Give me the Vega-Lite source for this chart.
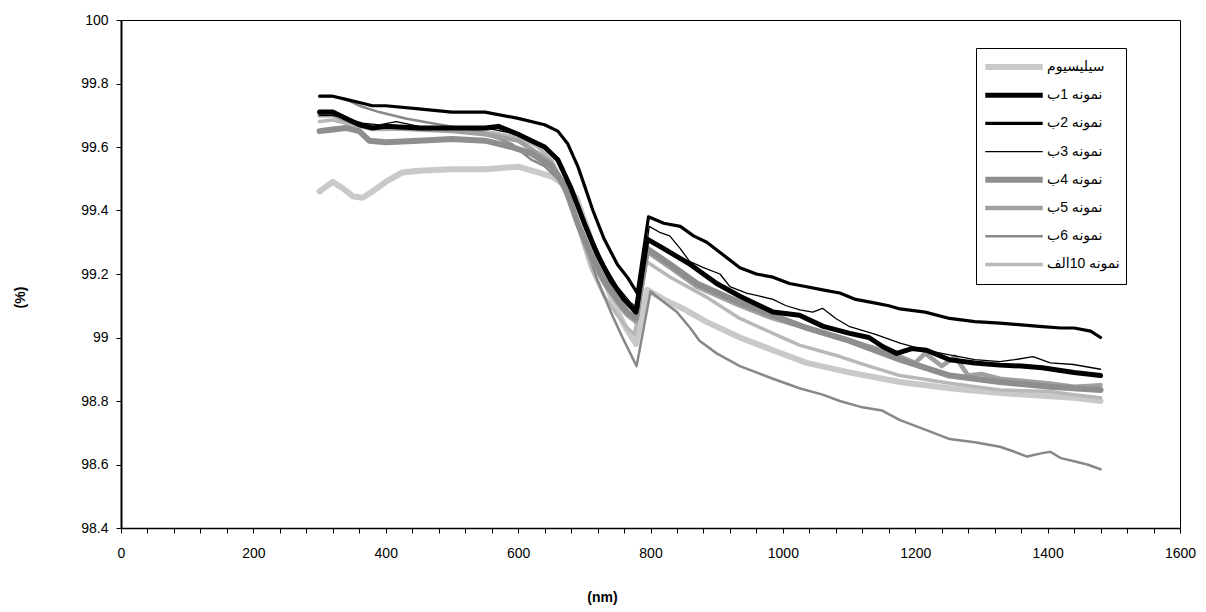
{
  "$schema": "https://vega.github.io/schema/vega-lite/v6.json",
  "width": 1059,
  "height": 508,
  "autosize": "none",
  "padding": {"left": 121, "top": 20, "right": 26, "bottom": 84},
  "background": "white",
  "config": {"view": {"stroke": "black", "strokeWidth": 1}, "font": "Liberation Sans"},
  "data": {"values": [
    {"s":"سیلیسیوم","nm":300,"p":99.46},{"s":"سیلیسیوم","nm":310,"p":99.475},{"s":"سیلیسیوم","nm":320,"p":99.49},{"s":"سیلیسیوم","nm":335,"p":99.47},{"s":"سیلیسیوم","nm":350,"p":99.445},{"s":"سیلیسیوم","nm":365,"p":99.44},{"s":"سیلیسیوم","nm":380,"p":99.46},{"s":"سیلیسیوم","nm":400,"p":99.49},{"s":"سیلیسیوم","nm":425,"p":99.52},{"s":"سیلیسیوم","nm":450,"p":99.525},{"s":"سیلیسیوم","nm":500,"p":99.53},{"s":"سیلیسیوم","nm":550,"p":99.53},{"s":"سیلیسیوم","nm":600,"p":99.538},{"s":"سیلیسیوم","nm":630,"p":99.52},{"s":"سیلیسیوم","nm":652,"p":99.506},{"s":"سیلیسیوم","nm":670,"p":99.48},{"s":"سیلیسیوم","nm":688,"p":99.44},{"s":"سیلیسیوم","nm":705,"p":99.34},{"s":"سیلیسیوم","nm":720,"p":99.24},{"s":"سیلیسیوم","nm":740,"p":99.13},{"s":"سیلیسیوم","nm":760,"p":99.04},{"s":"سیلیسیوم","nm":778,"p":98.98},{"s":"سیلیسیوم","nm":795,"p":99.15},{"s":"سیلیسیوم","nm":820,"p":99.12},{"s":"سیلیسیوم","nm":850,"p":99.09},{"s":"سیلیسیوم","nm":884,"p":99.05},{"s":"سیلیسیوم","nm":935,"p":99.0},{"s":"سیلیسیوم","nm":985,"p":98.96},{"s":"سیلیسیوم","nm":1036,"p":98.92},{"s":"سیلیسیوم","nm":1100,"p":98.89},{"s":"سیلیسیوم","nm":1177,"p":98.86},{"s":"سیلیسیوم","nm":1252,"p":98.84},{"s":"سیلیسیوم","nm":1328,"p":98.825},{"s":"سیلیسیوم","nm":1404,"p":98.815},{"s":"سیلیسیوم","nm":1440,"p":98.81},{"s":"سیلیسیوم","nm":1480,"p":98.8},

    {"s":"نمونه 10الف","nm":300,"p":99.68},{"s":"نمونه 10الف","nm":320,"p":99.685},{"s":"نمونه 10الف","nm":340,"p":99.675},{"s":"نمونه 10الف","nm":360,"p":99.665},{"s":"نمونه 10الف","nm":380,"p":99.655},{"s":"نمونه 10الف","nm":400,"p":99.655},{"s":"نمونه 10الف","nm":450,"p":99.66},{"s":"نمونه 10الف","nm":500,"p":99.655},{"s":"نمونه 10الف","nm":550,"p":99.65},{"s":"نمونه 10الف","nm":600,"p":99.63},{"s":"نمونه 10الف","nm":630,"p":99.6},{"s":"نمونه 10الف","nm":650,"p":99.56},{"s":"نمونه 10الف","nm":670,"p":99.48},{"s":"نمونه 10الف","nm":690,"p":99.35},{"s":"نمونه 10الف","nm":710,"p":99.22},{"s":"نمونه 10الف","nm":730,"p":99.13},{"s":"نمونه 10الف","nm":750,"p":99.07},{"s":"نمونه 10الف","nm":765,"p":99.03},{"s":"نمونه 10الف","nm":776,"p":99.01},{"s":"نمونه 10الف","nm":793,"p":99.24},{"s":"نمونه 10الف","nm":830,"p":99.19},{"s":"نمونه 10الف","nm":884,"p":99.128},{"s":"نمونه 10الف","nm":935,"p":99.06},{"s":"نمونه 10الف","nm":985,"p":99.013},{"s":"نمونه 10الف","nm":1025,"p":98.976},{"s":"نمونه 10الف","nm":1086,"p":98.94},{"s":"نمونه 10الف","nm":1130,"p":98.91},{"s":"نمونه 10الف","nm":1177,"p":98.88},{"s":"نمونه 10الف","nm":1252,"p":98.856},{"s":"نمونه 10الف","nm":1328,"p":98.835},{"s":"نمونه 10الف","nm":1404,"p":98.83},{"s":"نمونه 10الف","nm":1440,"p":98.82},{"s":"نمونه 10الف","nm":1480,"p":98.81},

    {"s":"نمونه 6ب","nm":300,"p":99.76},{"s":"نمونه 6ب","nm":320,"p":99.76},{"s":"نمونه 6ب","nm":340,"p":99.75},{"s":"نمونه 6ب","nm":360,"p":99.73},{"s":"نمونه 6ب","nm":390,"p":99.71},{"s":"نمونه 6ب","nm":430,"p":99.69},{"s":"نمونه 6ب","nm":470,"p":99.675},{"s":"نمونه 6ب","nm":540,"p":99.65},{"s":"نمونه 6ب","nm":590,"p":99.61},{"s":"نمونه 6ب","nm":620,"p":99.56},{"s":"نمونه 6ب","nm":640,"p":99.54},{"s":"نمونه 6ب","nm":660,"p":99.5},{"s":"نمونه 6ب","nm":680,"p":99.42},{"s":"نمونه 6ب","nm":700,"p":99.3},{"s":"نمونه 6ب","nm":720,"p":99.18},{"s":"نمونه 6ب","nm":740,"p":99.08},{"s":"نمونه 6ب","nm":760,"p":98.99},{"s":"نمونه 6ب","nm":779,"p":98.91},{"s":"نمونه 6ب","nm":800,"p":99.145},{"s":"نمونه 6ب","nm":815,"p":99.12},{"s":"نمونه 6ب","nm":840,"p":99.08},{"s":"نمونه 6ب","nm":860,"p":99.03},{"s":"نمونه 6ب","nm":874,"p":98.99},{"s":"نمونه 6ب","nm":900,"p":98.95},{"s":"نمونه 6ب","nm":935,"p":98.91},{"s":"نمونه 6ب","nm":960,"p":98.89},{"s":"نمونه 6ب","nm":985,"p":98.87},{"s":"نمونه 6ب","nm":1025,"p":98.84},{"s":"نمونه 6ب","nm":1060,"p":98.82},{"s":"نمونه 6ب","nm":1086,"p":98.8},{"s":"نمونه 6ب","nm":1120,"p":98.78},{"s":"نمونه 6ب","nm":1150,"p":98.77},{"s":"نمونه 6ب","nm":1177,"p":98.74},{"s":"نمونه 6ب","nm":1215,"p":98.71},{"s":"نمونه 6ب","nm":1252,"p":98.68},{"s":"نمونه 6ب","nm":1290,"p":98.67},{"s":"نمونه 6ب","nm":1328,"p":98.656},{"s":"نمونه 6ب","nm":1350,"p":98.64},{"s":"نمونه 6ب","nm":1369,"p":98.625},{"s":"نمونه 6ب","nm":1390,"p":98.635},{"s":"نمونه 6ب","nm":1404,"p":98.64},{"s":"نمونه 6ب","nm":1420,"p":98.62},{"s":"نمونه 6ب","nm":1440,"p":98.61},{"s":"نمونه 6ب","nm":1460,"p":98.6},{"s":"نمونه 6ب","nm":1480,"p":98.585},

    {"s":"نمونه 5ب","nm":300,"p":99.7},{"s":"نمونه 5ب","nm":320,"p":99.7},{"s":"نمونه 5ب","nm":340,"p":99.685},{"s":"نمونه 5ب","nm":360,"p":99.67},{"s":"نمونه 5ب","nm":400,"p":99.66},{"s":"نمونه 5ب","nm":450,"p":99.655},{"s":"نمونه 5ب","nm":500,"p":99.65},{"s":"نمونه 5ب","nm":550,"p":99.64},{"s":"نمونه 5ب","nm":600,"p":99.62},{"s":"نمونه 5ب","nm":630,"p":99.58},{"s":"نمونه 5ب","nm":650,"p":99.55},{"s":"نمونه 5ب","nm":670,"p":99.47},{"s":"نمونه 5ب","nm":690,"p":99.36},{"s":"نمونه 5ب","nm":710,"p":99.25},{"s":"نمونه 5ب","nm":730,"p":99.17},{"s":"نمونه 5ب","nm":750,"p":99.11},{"s":"نمونه 5ب","nm":765,"p":99.07},{"s":"نمونه 5ب","nm":778,"p":99.05},{"s":"نمونه 5ب","nm":795,"p":99.27},{"s":"نمونه 5ب","nm":830,"p":99.22},{"s":"نمونه 5ب","nm":870,"p":99.16},{"s":"نمونه 5ب","nm":935,"p":99.1},{"s":"نمونه 5ب","nm":985,"p":99.06},{"s":"نمونه 5ب","nm":1036,"p":99.03},{"s":"نمونه 5ب","nm":1100,"p":98.99},{"s":"نمونه 5ب","nm":1150,"p":98.96},{"s":"نمونه 5ب","nm":1177,"p":98.94},{"s":"نمونه 5ب","nm":1200,"p":98.92},{"s":"نمونه 5ب","nm":1215,"p":98.95},{"s":"نمونه 5ب","nm":1240,"p":98.91},{"s":"نمونه 5ب","nm":1260,"p":98.94},{"s":"نمونه 5ب","nm":1280,"p":98.88},{"s":"نمونه 5ب","nm":1300,"p":98.885},{"s":"نمونه 5ب","nm":1328,"p":98.87},{"s":"نمونه 5ب","nm":1404,"p":98.855},{"s":"نمونه 5ب","nm":1440,"p":98.845},{"s":"نمونه 5ب","nm":1480,"p":98.85},

    {"s":"نمونه 4ب","nm":300,"p":99.65},{"s":"نمونه 4ب","nm":320,"p":99.655},{"s":"نمونه 4ب","nm":340,"p":99.66},{"s":"نمونه 4ب","nm":360,"p":99.65},{"s":"نمونه 4ب","nm":375,"p":99.62},{"s":"نمونه 4ب","nm":400,"p":99.615},{"s":"نمونه 4ب","nm":450,"p":99.62},{"s":"نمونه 4ب","nm":500,"p":99.625},{"s":"نمونه 4ب","nm":550,"p":99.62},{"s":"نمونه 4ب","nm":590,"p":99.6},{"s":"نمونه 4ب","nm":620,"p":99.58},{"s":"نمونه 4ب","nm":650,"p":99.54},{"s":"نمونه 4ب","nm":670,"p":99.48},{"s":"نمونه 4ب","nm":690,"p":99.36},{"s":"نمونه 4ب","nm":710,"p":99.26},{"s":"نمونه 4ب","nm":730,"p":99.18},{"s":"نمونه 4ب","nm":750,"p":99.12},{"s":"نمونه 4ب","nm":765,"p":99.08},{"s":"نمونه 4ب","nm":778,"p":99.06},{"s":"نمونه 4ب","nm":795,"p":99.28},{"s":"نمونه 4ب","nm":830,"p":99.23},{"s":"نمونه 4ب","nm":870,"p":99.17},{"s":"نمونه 4ب","nm":935,"p":99.11},{"s":"نمونه 4ب","nm":985,"p":99.07},{"s":"نمونه 4ب","nm":1036,"p":99.03},{"s":"نمونه 4ب","nm":1100,"p":98.99},{"s":"نمونه 4ب","nm":1177,"p":98.93},{"s":"نمونه 4ب","nm":1252,"p":98.88},{"s":"نمونه 4ب","nm":1328,"p":98.86},{"s":"نمونه 4ب","nm":1404,"p":98.845},{"s":"نمونه 4ب","nm":1480,"p":98.835},

    {"s":"نمونه 3ب","nm":300,"p":99.7},{"s":"نمونه 3ب","nm":320,"p":99.7},{"s":"نمونه 3ب","nm":340,"p":99.69},{"s":"نمونه 3ب","nm":365,"p":99.675},{"s":"نمونه 3ب","nm":390,"p":99.67},{"s":"نمونه 3ب","nm":416,"p":99.68},{"s":"نمونه 3ب","nm":450,"p":99.665},{"s":"نمونه 3ب","nm":500,"p":99.66},{"s":"نمونه 3ب","nm":550,"p":99.66},{"s":"نمونه 3ب","nm":600,"p":99.64},{"s":"نمونه 3ب","nm":630,"p":99.61},{"s":"نمونه 3ب","nm":650,"p":99.58},{"s":"نمونه 3ب","nm":670,"p":99.52},{"s":"نمونه 3ب","nm":690,"p":99.42},{"s":"نمونه 3ب","nm":710,"p":99.32},{"s":"نمونه 3ب","nm":730,"p":99.23},{"s":"نمونه 3ب","nm":750,"p":99.16},{"s":"نمونه 3ب","nm":770,"p":99.11},{"s":"نمونه 3ب","nm":782,"p":99.09},{"s":"نمونه 3ب","nm":798,"p":99.35},{"s":"نمونه 3ب","nm":815,"p":99.33},{"s":"نمونه 3ب","nm":829,"p":99.32},{"s":"نمونه 3ب","nm":845,"p":99.28},{"s":"نمونه 3ب","nm":859,"p":99.24},{"s":"نمونه 3ب","nm":880,"p":99.22},{"s":"نمونه 3ب","nm":905,"p":99.2},{"s":"نمونه 3ب","nm":920,"p":99.16},{"s":"نمونه 3ب","nm":945,"p":99.14},{"s":"نمونه 3ب","nm":965,"p":99.13},{"s":"نمونه 3ب","nm":985,"p":99.12},{"s":"نمونه 3ب","nm":1005,"p":99.1},{"s":"نمونه 3ب","nm":1026,"p":99.087},{"s":"نمونه 3ب","nm":1045,"p":99.08},{"s":"نمونه 3ب","nm":1060,"p":99.092},{"s":"نمونه 3ب","nm":1080,"p":99.06},{"s":"نمونه 3ب","nm":1101,"p":99.034},{"s":"نمونه 3ب","nm":1140,"p":99.01},{"s":"نمونه 3ب","nm":1177,"p":98.982},{"s":"نمونه 3ب","nm":1215,"p":98.96},{"s":"نمونه 3ب","nm":1252,"p":98.945},{"s":"نمونه 3ب","nm":1290,"p":98.93},{"s":"نمونه 3ب","nm":1328,"p":98.924},{"s":"نمونه 3ب","nm":1350,"p":98.93},{"s":"نمونه 3ب","nm":1378,"p":98.94},{"s":"نمونه 3ب","nm":1404,"p":98.92},{"s":"نمونه 3ب","nm":1439,"p":98.915},{"s":"نمونه 3ب","nm":1480,"p":98.9},

    {"s":"نمونه 1ب","nm":300,"p":99.71},{"s":"نمونه 1ب","nm":320,"p":99.71},{"s":"نمونه 1ب","nm":340,"p":99.69},{"s":"نمونه 1ب","nm":360,"p":99.67},{"s":"نمونه 1ب","nm":380,"p":99.66},{"s":"نمونه 1ب","nm":400,"p":99.665},{"s":"نمونه 1ب","nm":450,"p":99.66},{"s":"نمونه 1ب","nm":500,"p":99.66},{"s":"نمونه 1ب","nm":550,"p":99.66},{"s":"نمونه 1ب","nm":570,"p":99.665},{"s":"نمونه 1ب","nm":600,"p":99.64},{"s":"نمونه 1ب","nm":620,"p":99.62},{"s":"نمونه 1ب","nm":640,"p":99.6},{"s":"نمونه 1ب","nm":660,"p":99.56},{"s":"نمونه 1ب","nm":680,"p":99.47},{"s":"نمونه 1ب","nm":700,"p":99.36},{"s":"نمونه 1ب","nm":720,"p":99.26},{"s":"نمونه 1ب","nm":740,"p":99.18},{"s":"نمونه 1ب","nm":760,"p":99.12},{"s":"نمونه 1ب","nm":778,"p":99.08},{"s":"نمونه 1ب","nm":795,"p":99.31},{"s":"نمونه 1ب","nm":820,"p":99.28},{"s":"نمونه 1ب","nm":860,"p":99.23},{"s":"نمونه 1ب","nm":900,"p":99.17},{"s":"نمونه 1ب","nm":935,"p":99.13},{"s":"نمونه 1ب","nm":985,"p":99.08},{"s":"نمونه 1ب","nm":1025,"p":99.07},{"s":"نمونه 1ب","nm":1061,"p":99.035},{"s":"نمونه 1ب","nm":1101,"p":99.013},{"s":"نمونه 1ب","nm":1130,"p":99.0},{"s":"نمونه 1ب","nm":1152,"p":98.97},{"s":"نمونه 1ب","nm":1172,"p":98.95},{"s":"نمونه 1ب","nm":1195,"p":98.965},{"s":"نمونه 1ب","nm":1217,"p":98.96},{"s":"نمونه 1ب","nm":1252,"p":98.93},{"s":"نمونه 1ب","nm":1290,"p":98.92},{"s":"نمونه 1ب","nm":1328,"p":98.913},{"s":"نمونه 1ب","nm":1360,"p":98.91},{"s":"نمونه 1ب","nm":1392,"p":98.905},{"s":"نمونه 1ب","nm":1440,"p":98.89},{"s":"نمونه 1ب","nm":1480,"p":98.88},

    {"s":"نمونه 2ب","nm":300,"p":99.76},{"s":"نمونه 2ب","nm":320,"p":99.76},{"s":"نمونه 2ب","nm":340,"p":99.75},{"s":"نمونه 2ب","nm":360,"p":99.74},{"s":"نمونه 2ب","nm":380,"p":99.73},{"s":"نمونه 2ب","nm":400,"p":99.73},{"s":"نمونه 2ب","nm":450,"p":99.72},{"s":"نمونه 2ب","nm":500,"p":99.71},{"s":"نمونه 2ب","nm":550,"p":99.71},{"s":"نمونه 2ب","nm":600,"p":99.69},{"s":"نمونه 2ب","nm":640,"p":99.67},{"s":"نمونه 2ب","nm":660,"p":99.65},{"s":"نمونه 2ب","nm":675,"p":99.61},{"s":"نمونه 2ب","nm":690,"p":99.54},{"s":"نمونه 2ب","nm":700,"p":99.48},{"s":"نمونه 2ب","nm":713,"p":99.4},{"s":"نمونه 2ب","nm":730,"p":99.31},{"s":"نمونه 2ب","nm":750,"p":99.23},{"s":"نمونه 2ب","nm":765,"p":99.19},{"s":"نمونه 2ب","nm":780,"p":99.14},{"s":"نمونه 2ب","nm":797,"p":99.38},{"s":"نمونه 2ب","nm":820,"p":99.36},{"s":"نمونه 2ب","nm":845,"p":99.35},{"s":"نمونه 2ب","nm":865,"p":99.32},{"s":"نمونه 2ب","nm":885,"p":99.3},{"s":"نمونه 2ب","nm":910,"p":99.26},{"s":"نمونه 2ب","nm":935,"p":99.22},{"s":"نمونه 2ب","nm":960,"p":99.2},{"s":"نمونه 2ب","nm":985,"p":99.19},{"s":"نمونه 2ب","nm":1010,"p":99.17},{"s":"نمونه 2ب","nm":1036,"p":99.16},{"s":"نمونه 2ب","nm":1060,"p":99.15},{"s":"نمونه 2ب","nm":1086,"p":99.14},{"s":"نمونه 2ب","nm":1110,"p":99.12},{"s":"نمونه 2ب","nm":1136,"p":99.11},{"s":"نمونه 2ب","nm":1160,"p":99.1},{"s":"نمونه 2ب","nm":1177,"p":99.09},{"s":"نمونه 2ب","nm":1215,"p":99.08},{"s":"نمونه 2ب","nm":1252,"p":99.06},{"s":"نمونه 2ب","nm":1290,"p":99.05},{"s":"نمونه 2ب","nm":1328,"p":99.045},{"s":"نمونه 2ب","nm":1360,"p":99.04},{"s":"نمونه 2ب","nm":1392,"p":99.034},{"s":"نمونه 2ب","nm":1420,"p":99.03},{"s":"نمونه 2ب","nm":1440,"p":99.03},{"s":"نمونه 2ب","nm":1465,"p":99.02},{"s":"نمونه 2ب","nm":1480,"p":99.0}
  ]},
  "mark": {"type": "line", "interpolate": "linear", "strokeJoin": "round", "strokeCap": "round"},
  "encoding": {
    "x": {"field": "nm", "type": "quantitative",
      "scale": {"domain": [0, 1600], "nice": false, "zero": false},
      "axis": {"values": [0,40,80,120,160,200,240,280,320,360,400,440,480,520,560,600,640,680,720,760,800,840,880,920,960,1000,1040,1080,1120,1160,1200,1240,1280,1320,1360,1400,1440,1480,1520,1560,1600],
        "labelExpr": "datum.value % 200 === 0 ? datum.label : ''", "format": "d",
        "labelOverlap": false, "labelFlush": false, "grid": false,
        "tickSize": 5, "tickColor": "black", "domainColor": "black", "domainWidth": 1.5,
        "labelFontSize": 14, "labelColor": "black", "labelFont": "Liberation Sans", "labelPadding": 13,
        "title": "(nm)", "titleFontWeight": "bold", "titleFontSize": 14, "titleFont": "Liberation Sans", "titleColor": "black",
        "titleX": 481, "titleY": 62}},
    "y": {"field": "p", "type": "quantitative",
      "scale": {"domain": [98.4, 100], "nice": false, "zero": false},
      "axis": {"values": [98.4, 98.6, 98.8, 99, 99.2, 99.4, 99.6, 99.8, 100], "format": ".1~f",
        "grid": false, "tickSize": 5, "tickColor": "black", "domainColor": "black", "domainWidth": 2,
        "labelFontSize": 14, "labelColor": "black", "labelFont": "Liberation Sans", "labelPadding": 8,
        "title": "(%)", "titleFontWeight": "bold", "titleFontSize": 14, "titleFont": "Liberation Sans", "titleColor": "black",
        "titleX": -94, "titleY": 277}},
    "color": {"field": "s", "type": "nominal",
      "scale": {"domain": ["سیلیسیوم","نمونه 1ب","نمونه 2ب","نمونه 3ب","نمونه 4ب","نمونه 5ب","نمونه 6ب","نمونه 10الف"],
        "range": ["#c9c9c9","#000000","#000000","#000000","#8e8e8e","#a0a0a0","#888888","#b8b8b8"]},
      "legend": {"title": null, "orient": "none", "legendX": 855, "legendY": 28,
        "strokeColor": "black", "fillColor": "white", "padding": 6,
        "symbolType": "stroke", "symbolSize": 3300, "clipHeight": 26, "rowPadding": 2.2,
        "symbolOffset": 0, "labelOffset": 1,
        "labelFontSize": 14, "labelFont": "Liberation Sans, DejaVu Sans", "labelColor": "black", "labelLimit": 200}},
    "strokeWidth": {"field": "s", "type": "nominal",
      "scale": {"type": "ordinal", "domain": ["سیلیسیوم","نمونه 1ب","نمونه 2ب","نمونه 3ب","نمونه 4ب","نمونه 5ب","نمونه 6ب","نمونه 10الف"],
        "range": [6, 5, 3.2, 1.3, 6, 4.5, 2.5, 3.5]},
      "legend": {"title": null, "orient": "none", "legendX": 855, "legendY": 28,
        "strokeColor": "black", "fillColor": "white", "padding": 6,
        "symbolType": "stroke", "symbolSize": 3300, "clipHeight": 26, "rowPadding": 2.2,
        "symbolOffset": 0, "labelOffset": 1,
        "labelFontSize": 14, "labelFont": "Liberation Sans, DejaVu Sans", "labelColor": "black", "labelLimit": 200}}
  }
}
